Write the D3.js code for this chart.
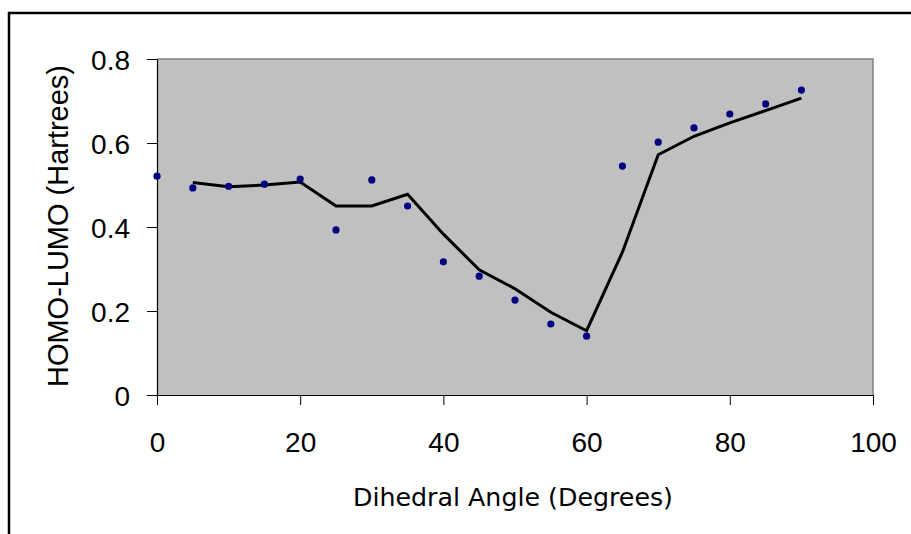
<!DOCTYPE html>
<html>
<head>
<meta charset="utf-8">
<script src="https://cdn.jsdelivr.net/npm/d3@7"></script>
<style>
  html, body { margin: 0; padding: 0; background: #fff; }
  svg { display: block; }
</style>
</head>
<body>
<svg id="chart" width="911" height="534"></svg>
<script>
// Data
const angles = [0, 5, 10, 15, 20, 25, 30, 35, 40, 45, 50, 55, 60, 65, 70, 75, 80, 85, 90];
const gapValues = [0.521, 0.493, 0.497, 0.502, 0.514, 0.393, 0.512, 0.450, 0.317, 0.283, 0.226, 0.169, 0.140, 0.545, 0.602, 0.636, 0.669, 0.693, 0.726];
// Trend line (2-point moving average), starting at 5
const trendAngles = [5, 10, 15, 20, 25, 30, 35, 40, 45, 50, 55, 60, 65, 70, 75, 80, 85, 90];
const trendValues = [0.506, 0.496, 0.500, 0.507, 0.450, 0.450, 0.478, 0.383, 0.298, 0.253, 0.197, 0.153, 0.340, 0.572, 0.616, 0.648, 0.677, 0.707];
const xTicks = [0, 20, 40, 60, 80, 100];
const yTicks = [0, 0.2, 0.4, 0.6, 0.8];
const xTitle = "Dihedral Angle (Degrees)";
const yTitle = "HOMO-LUMO (Hartrees)";

const svg = d3.select("#chart");
const pLeft = 157, pRight = 873, pTop = 59, pBottom = 395;

const x = d3.scaleLinear().domain([0, 100]).range([pLeft, pRight]);
const y = d3.scaleLinear().domain([0, 0.8]).range([pBottom, pTop]);

// Outer chart border (only top and left visible)
svg.append("rect")
  .attr("x", 9).attr("y", 13)
  .attr("width", 1200).attr("height", 1200)
  .attr("fill", "none").attr("stroke", "#000").attr("stroke-width", 2.5);

// Plot area
svg.append("rect")
  .attr("x", pLeft).attr("y", pTop)
  .attr("width", pRight - pLeft).attr("height", pBottom - pTop)
  .attr("fill", "#c0c0c0");
svg.append("path")
  .attr("d", `M${pLeft},${pTop}H${pRight}V${pBottom}`)
  .attr("fill", "none").attr("stroke", "#808080").attr("stroke-width", 1.5);

// Axes
const fontTick = "'Liberation Sans', Arial, sans-serif";
const xAxis = svg.append("g")
  .attr("transform", `translate(0,${pBottom})`)
  .call(d3.axisBottom(x).tickValues(xTicks).tickSize(10).tickSizeOuter(0).tickPadding(9).tickFormat(d3.format("d")));
const yAxis = svg.append("g")
  .attr("transform", `translate(${pLeft},0)`)
  .call(d3.axisLeft(y).tickValues(yTicks).tickSize(10).tickSizeOuter(0).tickPadding(17).tickFormat(d => d === 0 ? "0" : d3.format(".1f")(d)));

[xAxis, yAxis].forEach(g => {
  g.select(".domain").attr("stroke", "#000").attr("stroke-width", 1.2);
  g.selectAll(".tick line").attr("stroke", "#000").attr("stroke-width", 1);
  g.selectAll(".tick text")
    .attr("fill", "#000")
    .style("font-family", fontTick)
    .style("font-size", "28px");
});
xAxis.selectAll(".tick text").attr("dy", null).attr("y", 57);
yAxis.selectAll(".tick text").attr("dy", "0.36em");

// Trend line
const line = d3.line().x((d, i) => x(trendAngles[i])).y(d => y(d));
svg.append("path")
  .datum(trendValues)
  .attr("d", line)
  .attr("fill", "none")
  .attr("stroke", "#000")
  .attr("stroke-width", 3)
  .attr("stroke-linejoin", "miter");

// Points
svg.append("g").selectAll("circle")
  .data(gapValues)
  .join("circle")
  .attr("cx", (d, i) => x(angles[i]))
  .attr("cy", d => y(d))
  .attr("r", 3.6)
  .attr("fill", "#000080");

// Axis titles
svg.append("text")
  .attr("x", (pLeft + pRight) / 2 - 2)
  .attr("y", 506)
  .attr("text-anchor", "middle")
  .attr("textLength", 320)
  .attr("lengthAdjust", "spacingAndGlyphs")
  .style("font-family", "'DejaVu Sans', Tahoma, sans-serif")
  .style("font-size", "25px")
  .attr("fill", "#000")
  .text(xTitle);

svg.append("text")
  .attr("transform", `translate(68,${(65 + 387) / 2}) rotate(-90)`)
  .attr("text-anchor", "middle")
  .attr("textLength", 322)
  .attr("lengthAdjust", "spacingAndGlyphs")
  .style("font-family", fontTick)
  .style("font-size", "29px")
  .attr("fill", "#000")
  .text(yTitle);
</script>
</body>
</html>
